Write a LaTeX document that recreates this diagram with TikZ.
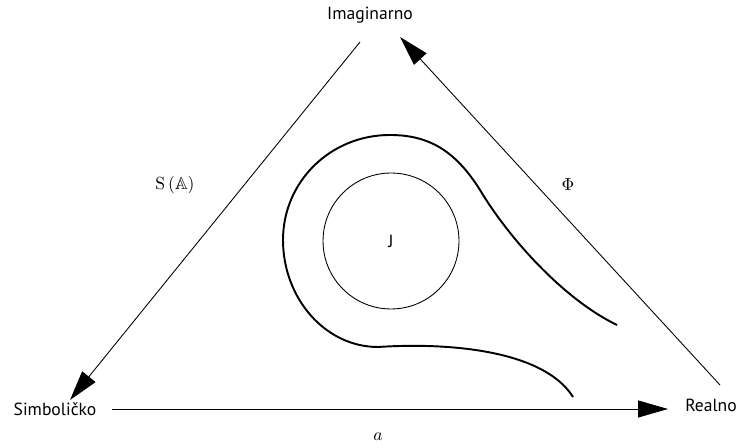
\documentclass[tikz,border=0pt]{standalone}
\usepackage{amssymb}
\usepackage{fontspec}
\setsansfont{PT Sans}
\usetikzlibrary{arrows.meta}

\begin{document}
\begin{tikzpicture}[
  x=0.02cm, y=-0.02cm,
  label/.style={font=\sffamily\normalsize, inner sep=1pt},
  sym/.style={font=\normalsize, inner sep=1pt},
  link/.style={-{Triangle[length=0.6cm, width=0.34cm]}, line width=0.5pt},
  ring/.style={line width=1.1pt}
]
\useasboundingbox (0,0) rectangle (739,448);

\node[label] (imag) at (370,15) {Imaginarno};
\node[label] (simb) at (55,409) {Simboličko};
\node[label] (real) at (711,405) {Realno};

\node[sym] (sa) at (175,185) {$\mathrm{S}\,(\mathbb{A})$};
\node[sym] (phi) at (568,185) {$\Phi$};
\node[sym] (aa) at (378,437) {$a$};

\node[draw, circle, minimum size=2.72cm, inner sep=0pt, line width=0.5pt,
  font=\sffamily\normalsize] (jj) at (391,241) {J};

% end points of the three connectors
\coordinate (imagL) at (360,42);
\coordinate (simbT) at (70,400);
\coordinate (simbR) at (112,409);
\coordinate (realL) at (668,409);
\coordinate (realT) at (720,385);
\coordinate (imagR) at (400,37);

\draw[link] (imagL) -- (simbT);
\draw[link] (simbR) -- (realL);
\draw[link] (realT) -- (imagR);

% the loop round J
\draw[ring] (617,325) .. controls (565,300) and (510,240) .. (480,190)
  .. controls (455,150) and (428,135) .. (390,135)
  .. controls (330,135) and (283,182) .. (283,240)
  .. controls (283,298) and (325,347) .. (378,347)
  .. controls (455,342) and (545,352) .. (573,397);
\end{tikzpicture}
\end{document}
